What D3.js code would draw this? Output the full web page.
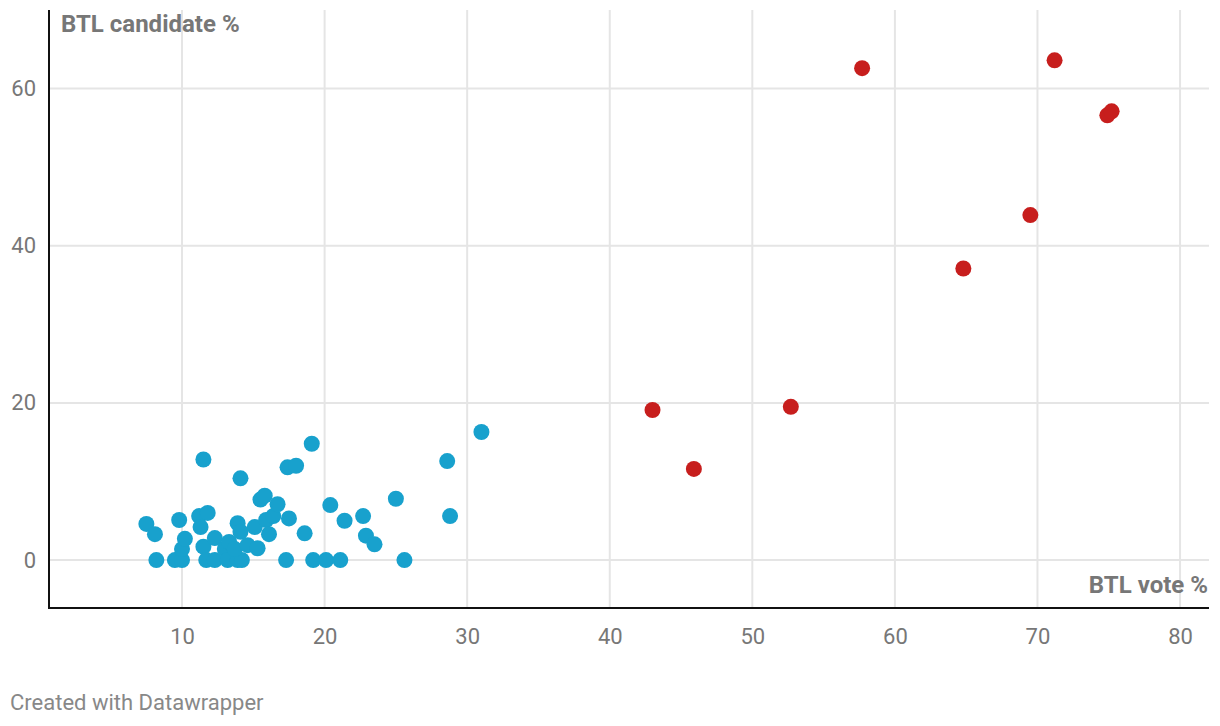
<!DOCTYPE html>
<html><head><meta charset="utf-8">
<script src="https://cdn.jsdelivr.net/npm/d3@7"></script>
<style>
body{margin:0;background:#fff;}
text{font-family:Roboto,"Noto Sans",sans-serif;}
</style></head>
<body><svg id="c" width="1220" height="726"></svg>
<script>
const xTicks=[10,20,30,40,50,60,70,80];
const yTicks=[0,20,40,60];
const blueX=[7.5,8.1,8.2,9.8,9.5,10.0,10.0,10.2,11.5,11.2,11.8,11.3,11.5,11.7,12.3,12.3,13.0,13.3,13.2,13.9,14.1,14.1,13.9,14.2,13.7,14.6,15.1,15.3,15.5,15.8,15.9,16.1,16.4,16.7,17.4,18.0,17.5,17.3,18.6,19.1,19.2,20.1,20.4,21.1,21.4,22.7,22.9,23.5,25.0,25.6,28.6,28.8,31.0];
const blueY=[4.6,3.3,0,5.1,0,0,1.4,2.7,12.8,5.6,6.0,4.2,1.7,0,2.8,0,1.4,2.3,0,4.7,10.4,3.6,0,0,1.4,1.9,4.2,1.5,7.7,8.2,5.1,3.3,5.6,7.1,11.8,12.0,5.3,0,3.4,14.8,0,0,7.0,0,5.0,5.6,3.1,2.0,7.8,0,12.6,5.6,16.3];
const redX=[57.7,71.2,74.9,75.2,69.5,64.8,43.0,52.7,45.9];
const redY=[62.6,63.6,56.6,57.1,43.9,37.1,19.1,19.5,11.6];

const svg=d3.select("#c");
const L=49,R=1209,T=10,B=608;
const x=d3.scaleLinear().domain([0.67,81.96]).range([L,1208]);
const y=d3.scaleLinear().domain([-6.1,70]).range([B,T]);

const grid=svg.append("g");
grid.selectAll(".vg").data(xTicks).join("line")
 .attr("x1",d=>x(d)).attr("x2",d=>x(d)).attr("y1",T).attr("y2",B)
 .attr("stroke","#e5e5e5").attr("stroke-width",2);
grid.selectAll(".hg").data(yTicks).join("line")
 .attr("x1",L).attr("x2",R).attr("y1",d=>y(d)).attr("y2",d=>y(d))
 .attr("stroke","#e5e5e5").attr("stroke-width",2);

const xa=svg.append("g").attr("transform",`translate(0,${B})`)
 .call(d3.axisBottom(x).tickValues(xTicks).tickSize(0).tickPadding(20));
xa.select(".domain").remove();
xa.selectAll("text").attr("font-size",22).attr("fill","#777").attr("font-family","Roboto");
const ya=svg.append("g").attr("transform",`translate(${L},0)`)
 .call(d3.axisLeft(y).tickValues(yTicks).tickSize(0).tickPadding(13));
ya.select(".domain").remove();
ya.selectAll("text").attr("font-size",22).attr("fill","#777").attr("font-family","Roboto");

svg.append("line").attr("x1",L).attr("x2",R).attr("y1",B).attr("y2",B).attr("stroke","#111").attr("stroke-width",2);
svg.append("line").attr("x1",L).attr("x2",L).attr("y1",T).attr("y2",B+1).attr("stroke","#111").attr("stroke-width",2);

svg.append("text").attr("x",61).attr("y",32).attr("font-size",24).attr("font-weight","bold").attr("fill","#777").text("BTL candidate %");
svg.append("text").attr("x",1208).attr("y",593).attr("text-anchor","end").attr("font-size",24).attr("font-weight","bold").attr("fill","#777").text("BTL vote %");

const blue=blueX.map((v,i)=>[v,blueY[i]]);
const red=redX.map((v,i)=>[v,redY[i]]);
svg.append("g").selectAll("circle").data(blue).join("circle")
 .attr("cx",d=>x(d[0])).attr("cy",d=>y(d[1])).attr("r",8).attr("fill","#18a1cd");
svg.append("g").selectAll("circle").data(red).join("circle")
 .attr("cx",d=>x(d[0])).attr("cy",d=>y(d[1])).attr("r",8).attr("fill","#c71e1d");

svg.append("text").attr("x",10).attr("y",710).attr("font-size",22).attr("fill","#888").text("Created with Datawrapper");
</script></body></html>
